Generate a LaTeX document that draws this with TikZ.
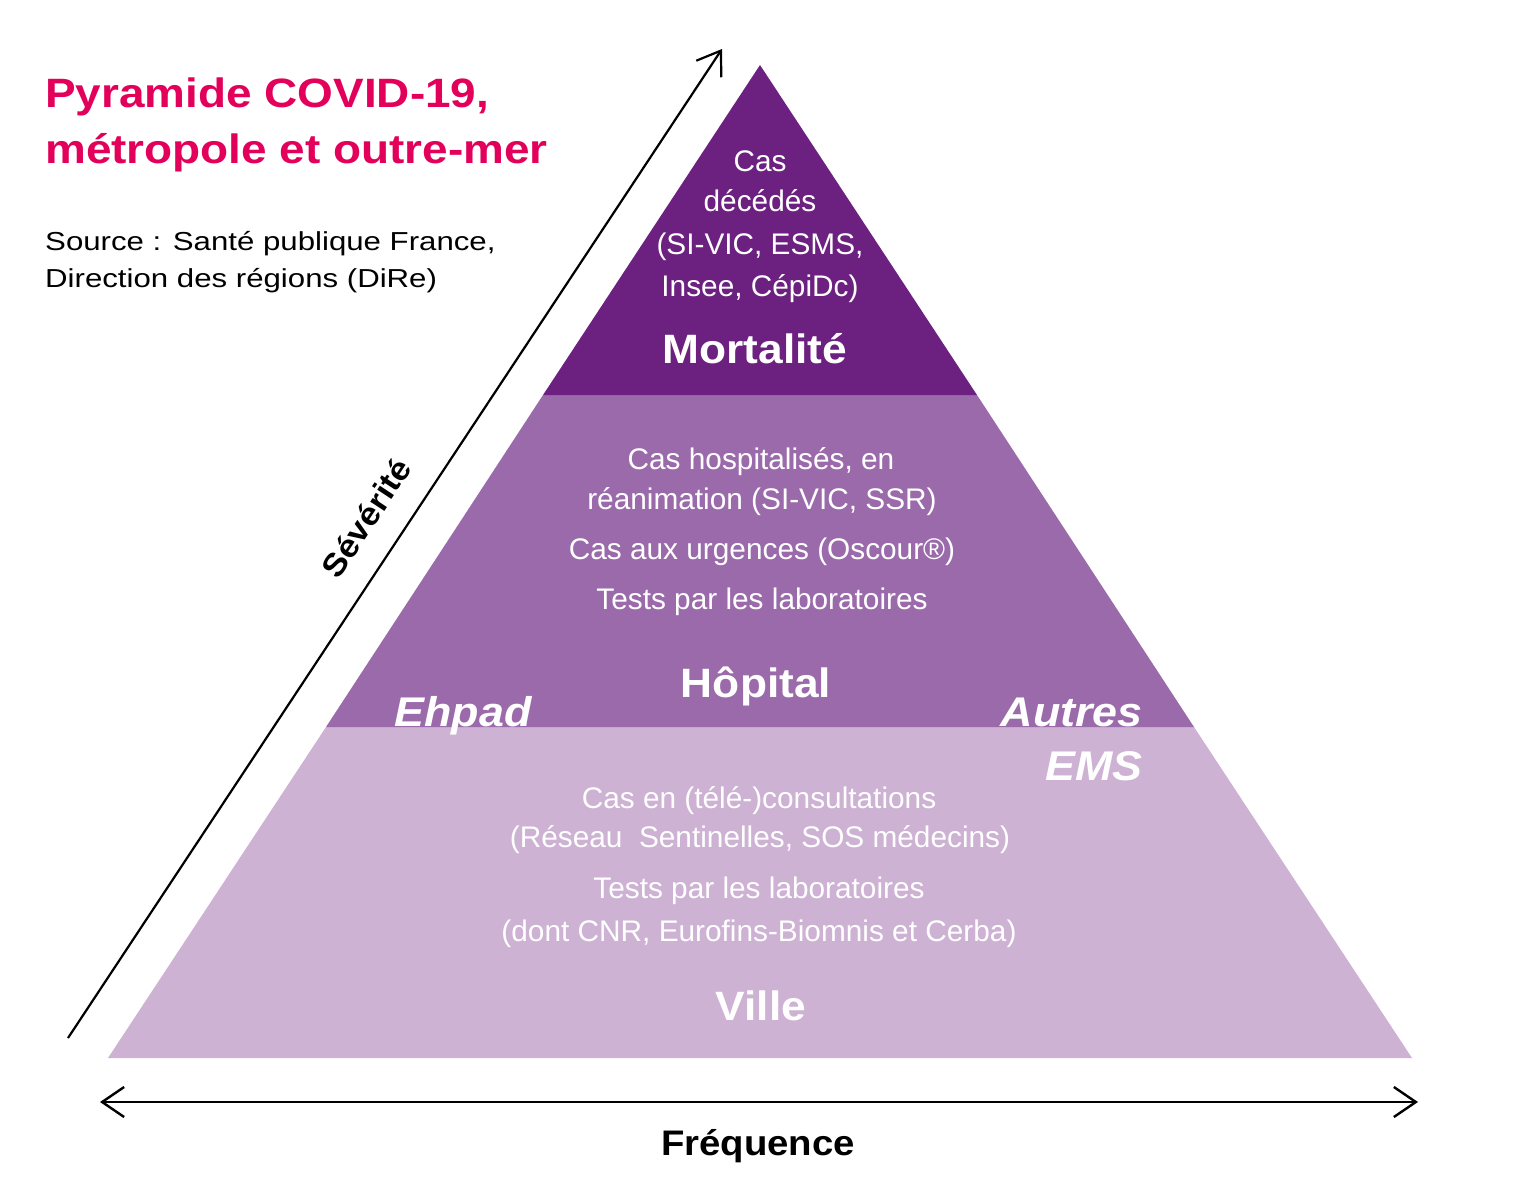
\documentclass[tikz,border=0pt]{standalone}
\usepackage{fontspec}
\setmainfont{Liberation Sans}
\newfontfamily\titlef[FakeStretch=1.12]{Liberation Sans}
\newfontfamily\srcf[FakeStretch=1.2]{Liberation Sans}
\newfontfamily\bodyf{Liberation Sans}
\newfontfamily\labf[FakeStretch=1.08]{Liberation Sans}
\usetikzlibrary{arrows.meta}
\definecolor{topband}{HTML}{6C2180}
\definecolor{midband}{HTML}{9B6AAB}
\definecolor{lowband}{HTML}{CDB2D4}
\definecolor{titlecol}{HTML}{E2005A}
\tikzset{
  titletext/.style={anchor=base west, inner sep=0pt, text=titlecol, font=\titlef\bfseries\fontsize{41}{49}\selectfont},
  srctext/.style={anchor=base west, inner sep=0pt, text=black, font=\srcf\fontsize{26}{31}\selectfont},
  bodytext/.style={anchor=base, inner sep=0pt, text=white, font=\bodyf\fontsize{29.8}{36}\selectfont},
  bandlabel/.style={anchor=base, inner sep=0pt, text=white, font=\labf\bfseries\fontsize{41}{48}\selectfont},
  sidelabel/.style={inner sep=0pt, text=white, font=\labf\bfseries\itshape\fontsize{41.5}{48}\selectfont},
  axislabel/.style={inner sep=0pt, text=black, font=\labf\bfseries\fontsize{35.5}{42}\selectfont},
  axisarrow/.style={draw=black, line width=2.6pt, line cap=butt}
}
\begin{document}
\begin{tikzpicture}[x=1pt, y=-1pt]
\useasboundingbox (0,0) rectangle (1534,1192);
% pyramid bands
\fill[lowband] (326,727) -- (1194,727) -- (1412,1058) -- (108,1058) -- cycle;
\fill[midband] (543,395) -- (977,395) -- (1194,727) -- (326,727) -- cycle;
\fill[topband] (760,65) -- (977,395) -- (543,395) -- cycle;

% title and source
\node[titletext] (t1) at (45,107) {Pyramide COVID-19,};
\node[titletext] (t2) at (45,163) {métropole et outre-mer};
\node[srctext] (s1) at (45,250) {Source : Santé publique France,};
\node[srctext] (s2) at (45,287) {Direction des régions (DiRe)};

% Mortalite band
\node[bodytext] (m1) at (760,171) {Cas};
\node[bodytext] (m2) at (760,211) {décédés};
\node[bodytext] (m3) at (760,254) {(SI-VIC, ESMS,};
\node[bodytext] (m4) at (760,296) {Insee, CépiDc)};
\node[bandlabel] (mort) at (755,363) {Mortalité};

% Hopital band
\node[bodytext] (h1) at (761,469) {Cas hospitalisés, en};
\node[bodytext] (h2) at (762,509) {réanimation (SI-VIC, SSR)};
\node[bodytext] (h3) at (762,559) {Cas aux urgences (Oscour®)};
\node[bodytext] (h4) at (762,609) {Tests par les laboratoires};
\node[bandlabel] (hop) at (756,697) {Hôpital};
\node[sidelabel, anchor=base] (ehpad) at (463,726) {Ehpad};
\node[sidelabel, anchor=base east] (autres) at (1143,726) {Autres};
\node[sidelabel, anchor=base east] (ems) at (1143,780) {EMS};

% Ville band
\node[bodytext] (v1) at (759,808) {Cas en (télé-)consultations};
\node[bodytext] (v2) at (760,847) {(Réseau\ \ Sentinelles, SOS médecins)};
\node[bodytext] (v3) at (759,898) {Tests par les laboratoires};
\node[bodytext] (v4) at (759,941) {(dont CNR, Eurofins-Biomnis et Cerba)};
\node[bandlabel] (ville) at (761,1020) {Ville};

% axes
\coordinate (sevA) at (68,1038);
\coordinate (sevB) at (722,49);
\draw[axisarrow, line width=2.2pt, -{Straight Barb[length=22pt, width=30pt, line width=2.2pt]}] (sevA) -- (sevB);
\node[axislabel, rotate=56.5, font=\labf\bfseries\fontsize{32}{38}\selectfont] (sev) at (366,518) {Sévérité};

\coordinate (freqA) at (100,1102);
\coordinate (freqB) at (1418,1102);
\draw[axisarrow, {Straight Barb[length=22pt, width=30pt, line width=2.4pt]}-{Straight Barb[length=22pt, width=30pt, line width=2.4pt]}] (freqA) -- (freqB);
\node[axislabel, anchor=base] (freq) at (758,1155) {Fréquence};
\end{tikzpicture}
\end{document}
